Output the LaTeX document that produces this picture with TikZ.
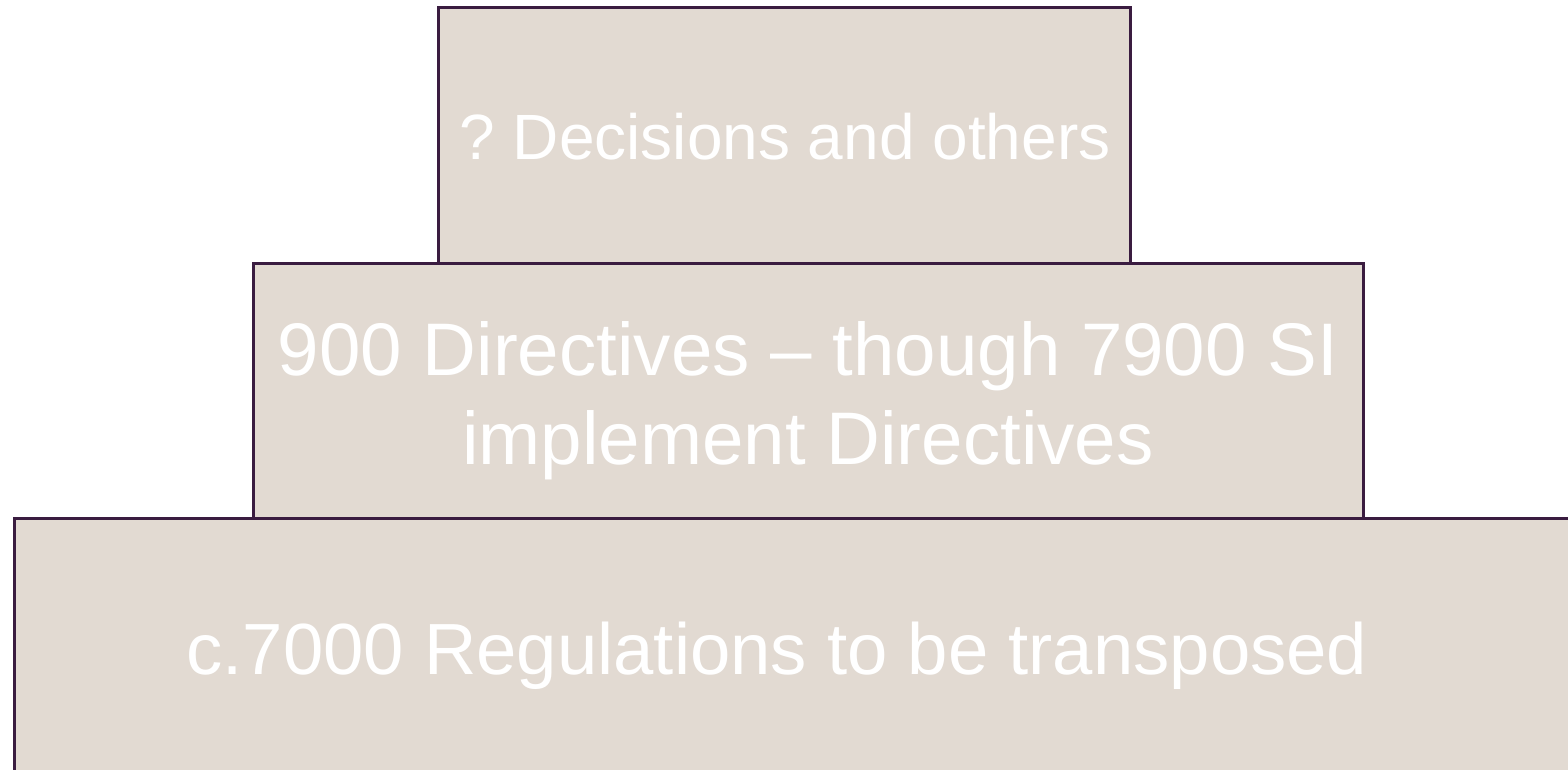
\documentclass[tikz,border=0pt]{standalone}
\usepackage{fontspec}
\setmainfont{Liberation Sans}
\frenchspacing
\definecolor{tierfill}{HTML}{E2DAD2}
\definecolor{tierline}{HTML}{3A1C40}
\begin{document}
\begin{tikzpicture}[x=1pt,y=-1pt,
  tier/.style={draw=tierline,fill=tierfill,line width=3pt},
  tiertext/.style={text=white,inner sep=0pt,anchor=base,align=center}]
\useasboundingbox (0,0) rectangle (1568,770);
\clip (0,0) rectangle (1568,770);
% three stacked tiers of the pyramid, bottom first
\draw[tier] (14,518) rectangle (1600,800);
\draw[tier] (253,263) rectangle (1363,518);
\draw[tier] (438,8) rectangle (1130,263);
% labels (anchor=base sits on the last line's baseline)
\node[tiertext,font=\fontsize{64}{77}\selectfont] (top) at (785,160) {? Decisions and others};
\node[tiertext,font=\fontsize{74.5}{89}\selectfont] (mid) at (808,464) {900 Directives – though 7900 SI\\implement Directives};
\node[tiertext,font=\fontsize{72.5}{86}\selectfont] (bot) at (777,674) {c.7000 Regulations to be transposed};
\end{tikzpicture}
\end{document}
